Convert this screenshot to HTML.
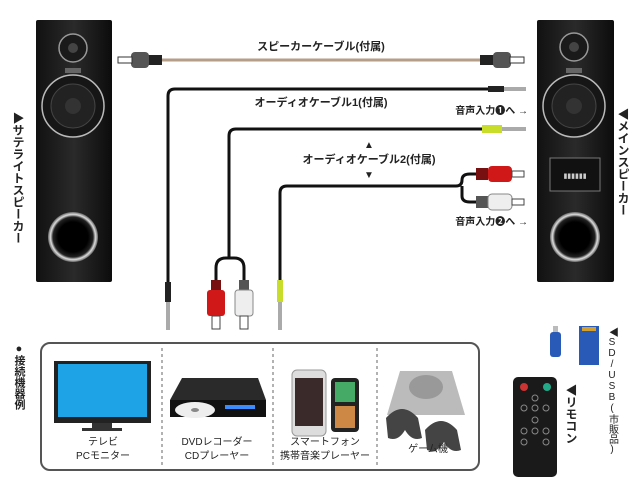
<!DOCTYPE html>
<html><head><meta charset="utf-8"><style>
html,body{margin:0;padding:0;background:#fff;}
svg{display:block;font-family:"Liberation Sans","Noto Sans CJK JP",sans-serif;}
</style></head><body>
<svg width="640" height="496" viewBox="0 0 640 496" xmlns="http://www.w3.org/2000/svg">
<defs>
<linearGradient id="spk" x1="0" x2="1"><stop offset="0" stop-color="#111"/><stop offset=".5" stop-color="#2a2a2a"/><stop offset="1" stop-color="#0c0c0c"/></linearGradient>
<radialGradient id="port" cx=".5" cy=".5" r=".5"><stop offset=".6" stop-color="#000"/><stop offset=".8" stop-color="#222"/><stop offset=".9" stop-color="#ddd"/><stop offset="1" stop-color="#666"/></radialGradient>
</defs>
<!-- left speaker -->
<rect x="36" y="20" width="76" height="262" fill="url(#spk)" rx="2"/>
<circle cx="73" cy="48" r="14" fill="#1a1a1a" stroke="#999" stroke-width="1.5"/><circle cx="73" cy="48" r="5" fill="#444"/>
<rect x="65" y="68" width="16" height="5" fill="#666"/>
<circle cx="73" cy="106" r="31" fill="#161616" stroke="#bbb" stroke-width="1.5"/><circle cx="73" cy="106" r="22" fill="#222" stroke="#444"/><circle cx="73" cy="106" r="8" fill="#333"/>
<circle cx="73" cy="237" r="25" fill="url(#port)"/>
<!-- right speaker -->
<rect x="537" y="20" width="77" height="262" fill="url(#spk)" rx="2"/>
<circle cx="574" cy="47" r="14" fill="#1a1a1a" stroke="#999" stroke-width="1.5"/><circle cx="574" cy="47" r="5" fill="#444"/>
<rect x="566" y="68" width="16" height="5" fill="#666"/>
<circle cx="574" cy="106" r="31" fill="#161616" stroke="#bbb" stroke-width="1.5"/><circle cx="574" cy="106" r="22" fill="#222" stroke="#444"/><circle cx="574" cy="106" r="8" fill="#333"/>
<rect x="550" y="158" width="50" height="33" fill="#111" stroke="#777"/>
<text x="575" y="178" font-size="7" fill="#ccc" text-anchor="middle">▮▮▮▮▮▮</text>
<circle cx="575" cy="237" r="25" fill="url(#port)"/>
<!-- speaker cable -->
<line x1="160" y1="60" x2="482" y2="60" stroke="#b59e88" stroke-width="3"/>
<rect x="148" y="55" width="14" height="10" fill="#222"/><rect x="131" y="52" width="18" height="16" rx="4" fill="#555"/><rect x="118" y="57" width="14" height="6" fill="#fff" stroke="#333"/>
<rect x="480" y="55" width="14" height="10" fill="#222"/><rect x="493" y="52" width="18" height="16" rx="4" fill="#555"/><rect x="510" y="57" width="14" height="6" fill="#fff" stroke="#333"/>
<text x="321" y="50" font-size="11" font-weight="bold" text-anchor="middle" fill="#222">スピーカーケーブル(付属)</text>
<!-- audio cable 1 -->
<path d="M168 290 V96 Q168 89 175 89 H500" fill="none" stroke="#111" stroke-width="3"/>
<rect x="488" y="86" width="16" height="6" fill="#222"/><rect x="504" y="87" width="22" height="4" fill="#aaa"/>
<rect x="165" y="282" width="6" height="20" fill="#222"/><rect x="166" y="302" width="4" height="28" fill="#aaa"/>
<text x="321" y="106" font-size="11" font-weight="bold" text-anchor="middle" fill="#222">オーディオケーブル1(付属)</text>
<text x="528" y="114" font-size="10" font-weight="bold" text-anchor="end" fill="#222">音声入力❶へ →</text>
<!-- audio cable 2 -->
<path d="M229 258 V136 Q229 129 236 129 H490" fill="none" stroke="#111" stroke-width="3"/>
<rect x="482" y="125" width="20" height="8" fill="#c8dc2a"/><rect x="502" y="127" width="24" height="4" fill="#aaa"/>
<path d="M216 282 V268 Q216 258 226 258 H234 Q244 258 244 268 V282" fill="none" stroke="#111" stroke-width="3"/>
<rect x="211" y="280" width="10" height="12" fill="#711"/><rect x="207" y="290" width="18" height="26" rx="3" fill="#d01818"/><rect x="212" y="316" width="8" height="13" fill="#fff" stroke="#444"/>
<rect x="239" y="280" width="10" height="12" fill="#555"/><rect x="235" y="290" width="18" height="26" rx="3" fill="#eee" stroke="#888"/><rect x="240" y="316" width="8" height="13" fill="#fff" stroke="#444"/>
<path d="M280 285 V193 Q280 186 287 186 H456 Q462 186 462 180 V180 Q462 174 470 174 H478 M462 186 V196 Q462 202 470 202 H478" fill="none" stroke="#111" stroke-width="3"/>
<rect x="277" y="280" width="6" height="22" fill="#c8dc2a"/><rect x="278" y="302" width="4" height="28" fill="#aaa"/>
<rect x="476" y="168" width="12" height="12" fill="#711"/><rect x="488" y="166" width="24" height="16" rx="4" fill="#d01818"/><rect x="512" y="171" width="12" height="6" fill="#fff" stroke="#444"/>
<rect x="476" y="196" width="12" height="12" fill="#555"/><rect x="488" y="194" width="24" height="16" rx="4" fill="#eee" stroke="#888"/><rect x="512" y="199" width="12" height="6" fill="#fff" stroke="#444"/>
<text x="369" y="148" font-size="10" text-anchor="middle" fill="#222">▲</text>
<text x="369" y="163" font-size="11" font-weight="bold" text-anchor="middle" fill="#222">オーディオケーブル2(付属)</text>
<text x="369" y="178" font-size="10" text-anchor="middle" fill="#222">▼</text>
<text x="528" y="225" font-size="10" font-weight="bold" text-anchor="end" fill="#222">音声入力❷へ →</text>
<!-- vertical labels -->
<text x="18" y="112" font-size="12" font-weight="bold" fill="#222" style="writing-mode:vertical-rl">▶サテライトスピーカー</text>
<text x="623" y="108" font-size="12" font-weight="bold" fill="#222" style="writing-mode:vertical-rl">◀メインスピーカー</text>
<text x="19" y="343" font-size="11" font-weight="bold" fill="#222" style="writing-mode:vertical-rl">●接続機器例</text>
<text x="612" y="327" font-size="10" fill="#222" style="writing-mode:vertical-rl;text-orientation:upright">◀SD/USB(市販品)</text>
<text x="571" y="384" font-size="12" font-weight="bold" fill="#222" style="writing-mode:vertical-rl">◀リモコン</text>
<!-- device box -->
<rect x="41" y="343" width="438" height="127" rx="9" fill="#fff" stroke="#555" stroke-width="2"/>
<line x1="162" y1="348" x2="162" y2="466" stroke="#666" stroke-dasharray="3,3"/>
<line x1="273" y1="348" x2="273" y2="466" stroke="#666" stroke-dasharray="3,3"/>
<line x1="377" y1="348" x2="377" y2="466" stroke="#666" stroke-dasharray="3,3"/>
<!-- tv -->
<rect x="54" y="361" width="97" height="62" fill="#222"/><rect x="58" y="364" width="89" height="53" fill="#1ea3e6"/>
<rect x="92" y="423" width="20" height="5" fill="#333"/><rect x="82" y="428" width="40" height="3" fill="#333"/>
<text x="103" y="445" font-size="10" text-anchor="middle" fill="#222">テレビ</text>
<text x="103" y="459" font-size="10" text-anchor="middle" fill="#222">PCモニター</text>
<!-- dvd -->
<path d="M182 378 H258 L266 400 V417 H170 V400 Z" fill="#2a2a2a"/><rect x="170" y="400" width="96" height="17" fill="#111"/>
<rect x="225" y="405" width="30" height="4" fill="#3a8cff"/>
<ellipse cx="195" cy="410" rx="20" ry="8" fill="#eee"/><ellipse cx="195" cy="410" rx="4" ry="2" fill="#888"/>
<text x="217" y="445" font-size="10" text-anchor="middle" fill="#222">DVDレコーダー</text>
<text x="217" y="459" font-size="10" text-anchor="middle" fill="#222">CDプレーヤー</text>
<!-- phones -->
<rect x="292" y="370" width="34" height="66" rx="5" fill="#ddd" stroke="#999"/><rect x="295" y="378" width="28" height="48" fill="#3a2a2a"/>
<rect x="331" y="378" width="28" height="54" rx="4" fill="#222"/><rect x="335" y="382" width="20" height="20" fill="#4a6"/>
<rect x="335" y="406" width="20" height="22" fill="#c84"/>
<text x="325" y="445" font-size="10" text-anchor="middle" fill="#222">スマートフォン</text>
<text x="325" y="459" font-size="10" text-anchor="middle" fill="#222">携帯音楽プレーヤー</text>
<!-- game -->
<path d="M400 371 H452 L465 415 H387 Z" fill="#bbb"/><ellipse cx="426" cy="387" rx="17" ry="12" fill="#999"/>
<path d="M386 418 Q402 400 418 418 L422 438 Q412 442 405 430 Q398 442 388 438 Z" fill="#444"/>
<path d="M425 430 Q441 412 457 430 L461 450 Q451 454 444 442 Q437 454 427 450 Z" fill="#444"/>
<text x="428" y="452" font-size="10" text-anchor="middle" fill="#222">ゲーム機</text>
<!-- usb/sd -->
<rect x="553" y="326" width="5" height="6" fill="#bbb"/><rect x="550" y="332" width="11" height="25" rx="3" fill="#2a5ab8"/>
<path d="M579 326 H599 V365 H579 Z" fill="#2a5ab8"/><rect x="582" y="327" width="14" height="4" fill="#d4a030"/>
<!-- remote -->
<rect x="513" y="377" width="44" height="100" rx="5" fill="#1a1a1a"/>
<circle cx="524" cy="387" r="4" fill="#c33"/><circle cx="547" cy="387" r="4" fill="#2a8"/>
<g fill="none" stroke="#888" stroke-width="1"><circle cx="535" cy="398" r="3"/><circle cx="524" cy="408" r="3"/><circle cx="535" cy="408" r="3"/><circle cx="546" cy="408" r="3"/><circle cx="535" cy="420" r="3"/><circle cx="524" cy="431" r="3"/><circle cx="535" cy="431" r="3"/><circle cx="546" cy="431" r="3"/><circle cx="524" cy="442" r="3"/><circle cx="546" cy="442" r="3"/></g>
</svg>
</body></html>
